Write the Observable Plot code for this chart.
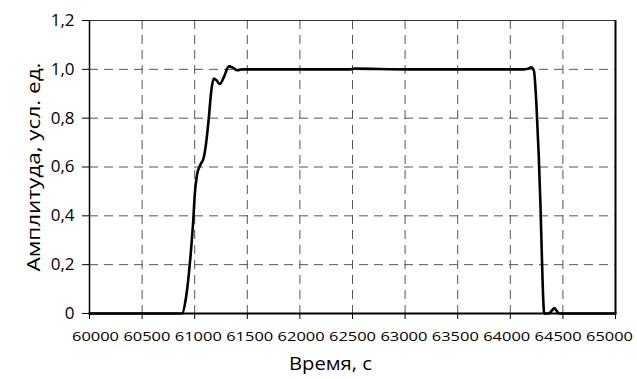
<!DOCTYPE html>
<html>
<head>
<meta charset="utf-8">
<script src="https://cdn.jsdelivr.net/npm/d3@7"></script>
<script src="https://cdn.jsdelivr.net/npm/@observablehq/plot@0.6"></script>
<style>
  html, body { margin: 0; padding: 0; background: #fff; }
  svg { display: block; }
</style>
</head>
<body>
<div id="chart"></div>
<script>
// Time axis (s) and amplitude (relative units)
const time = [
  60000, 60881, 60913, 60944, 60967, 60986, 61001, 61023, 61055, 61087,
  61112, 61134, 61157, 61182, 61207, 61239, 61277, 61325, 61366, 61404,
  61451, 61500, 62000, 62480, 62520, 63000, 63500, 64000, 64128, 64176,
  64198, 64224, 64249, 64271, 64287, 64300, 64313, 64322, 64366, 64391,
  64420, 64445, 64464, 65000
];
const amplitude = [
  0, 0, 0.053, 0.16, 0.27, 0.38, 0.49, 0.57, 0.61, 0.64,
  0.71, 0.80, 0.91, 0.962, 0.955, 0.94, 0.968, 1.012, 1.006, 0.996,
  1.0, 1.0, 1.0, 1.0, 1.003, 1.0, 1.0, 1.0, 1.0, 1.004,
  1.008, 0.995, 0.85, 0.64, 0.44, 0.235, 0.06, 0, 0, 0.01,
  0.022, 0.008, 0, 0
];
const xTicks = [60000, 60500, 61000, 61500, 62000, 62500, 63000, 63500, 64000, 64500, 65000];
const yTicks = [0, 0.2, 0.4, 0.6, 0.8, 1.0, 1.2];
const yTickLabels = ["0", "0,2", "0,4", "0,6", "0,8", "1,0", "1,2"];
const xTitle = "Время, с";
const yTitle = "Амплитуда, усл. ед.";

const data = time.map((t, i) => ({t, a: amplitude[i]}));
// zero-level stretches before the pulse starts and after it ends
const zeroSegs = [
  {x1: time[0], x2: time[1]},
  {x1: time[time.length - 2], x2: time[time.length - 1]}
];

const font = "'Open Sans', 'Noto Sans', sans-serif";
const grid = "#555";

const chart = Plot.plot({
  width: 637,
  height: 379,
  marginLeft: 89,
  marginRight: 22,
  marginTop: 20,
  marginBottom: 66,
  style: {fontFamily: font, background: "#fff", color: "#000"},
  x: {domain: [60000, 65000]},
  y: {domain: [0, 1.2]},
  marks: [
    // dashed grid
    Plot.ruleX(xTicks.slice(1, -1), {stroke: grid, strokeWidth: 1, strokeDasharray: "9,6"}),
    Plot.ruleY(yTicks.slice(1, -1), {stroke: grid, strokeWidth: 1, strokeDasharray: "9,6"}),
    Plot.ruleX(zeroSegs, {x1: "x1", x2: "x2", y: 0, dy: -2, stroke: grid, strokeDasharray: "9,6"}),
    // frame: top, right
    Plot.ruleY([1.2], {stroke: "#333", strokeWidth: 1}),
    Plot.ruleX([65000], {stroke: "#000", strokeWidth: 2}),
    // axes lines
    Plot.ruleY([0], {stroke: "#000", strokeWidth: 2}),
    Plot.ruleX([60000], {stroke: "#000", strokeWidth: 1.5}),
    Plot.axisX({
      ticks: xTicks, tickFormat: d => String(d), tickSize: 6, tickPadding: 12,
      fontSize: 13.5, label: null
    }),
    Plot.axisY({
      ticks: yTicks, tickFormat: (d, i) => yTickLabels[yTicks.indexOf(d)],
      tickSize: 7, tickPadding: 8, fontSize: 17, label: null
    }),
    Plot.line(data, {x: "t", y: "a", stroke: "#000", strokeWidth: 2.6, curve: "monotone-x"}),
    Plot.text([xTitle], {frameAnchor: "bottom", textAnchor: "middle", lineAnchor: "middle",
      dx: -22, dy: 51, fontSize: 18.5, fill: "#000"}),
    Plot.text([yTitle], {frameAnchor: "left", textAnchor: "middle", lineAnchor: "middle",
      rotate: -90, dx: -56, fontSize: 19, fill: "#000"})
  ]
});

document.getElementById("chart").appendChild(chart);
const root = d3.select(chart);
// stretch x tick labels horizontally to the reference's wide digits,
// and pull them slightly toward the centre as in the reference
root.selectAll("[aria-label='x-axis tick label'] text")
  .attr("textLength", 47).attr("lengthAdjust", "spacingAndGlyphs")
  .attr("dx", (d, i) => (5 - i) * 1.2);
root.selectAll("text").each(function() {
  const t = this.textContent;
  if (t === xTitle) d3.select(this).attr("textLength", 83).attr("lengthAdjust", "spacingAndGlyphs");
  if (t === yTitle) d3.select(this).attr("textLength", 209).attr("lengthAdjust", "spacingAndGlyphs");
});
</script>
</body>
</html>
